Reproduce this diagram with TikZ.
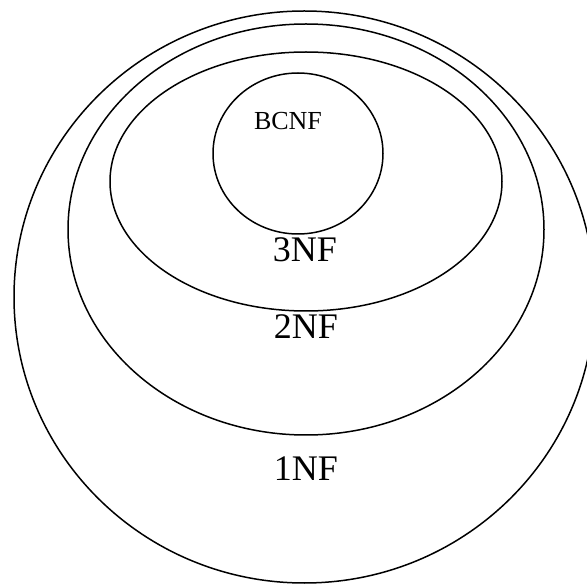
\documentclass[tikz,border=0pt]{standalone}
\usepackage{fontspec}
\setmainfont{Liberation Serif}
\begin{document}
\begin{tikzpicture}[x=1pt,y=-1pt,
  ring/.style={draw=black,line width=1.5pt},
  biglabel/.style={anchor=base,inner sep=0pt,font=\fontsize{36}{40}\selectfont},
  smalllabel/.style={anchor=base,inner sep=0pt,font=\fontsize{26}{30}\selectfont}]
\useasboundingbox (0,0) rectangle (587,585);
\draw[ring] (304.3,297) ellipse [x radius=290.3, y radius=286];
\draw[ring] (306,229.5) ellipse [x radius=238, y radius=205.5];
\draw[ring] (306,181.5) ellipse [x radius=196, y radius=129.5];
\draw[ring] (298,153.5) ellipse [x radius=85, y radius=80.5];
\node[smalllabel] (bcnf) at (288,130) {BCNF};
\node[biglabel] (tnf) at (305,262) {3NF};
\node[biglabel] (snf) at (306,339) {2NF};
\node[biglabel] (fnf) at (306,481) {1NF};
\end{tikzpicture}
\end{document}
